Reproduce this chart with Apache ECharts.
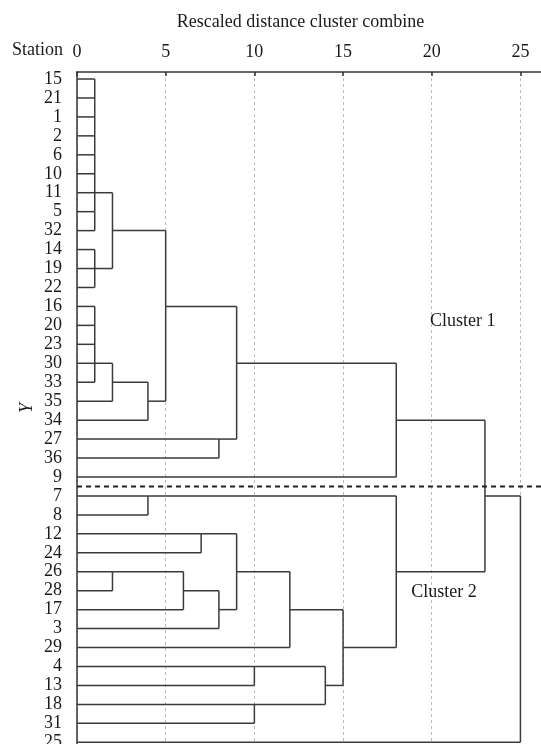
<!DOCTYPE html>
<html>
<head>
<meta charset="utf-8">
<script src="https://cdn.jsdelivr.net/npm/echarts@6/dist/echarts.min.js"></script>
<style>
html,body{margin:0;padding:0;background:#fff;}
#chart{width:541px;height:744px;}
</style>
</head>
<body>
<div id="chart"></div>
<script>
// Leaf order (top to bottom)
const stations = ['15','21','1','2','6','10','11','5','32','14','19','22','16','20','23','30','33','35','34','27','36','9','7','8','12','24','26','28','17','3','29','4','13','18','31','25'];
// Rescaled distance at which each leaf first joins
const leafJoin = [1,1,1,1,1,1,1,1,1, 1,1,1, 1,1,1,1,1, 2,4,8,8,18, 4,4,7,7,2,2,6,8,12,10,10,10,10,25];
// Merges: [distance, firstRow, lastRow, linkRow, parentDistance]
const merges = [
  [1, 0, 8, 6, 2],
  [1, 9, 11, 10, 2],
  [2, 6, 10, 8, 5],
  [1, 12, 16, 15, 2],
  [2, 15, 17, 16, 4],
  [4, 16, 18, 17, 5],
  [5, 8, 17, 12, 9],
  [8, 19, 20, 19, 9],
  [9, 12, 19, 15, 18],
  [18, 15, 21, 18, 23],
  [4, 22, 23, 22, 18],
  [7, 24, 25, 24, 9],
  [2, 26, 27, 26, 6],
  [6, 26, 28, 27, 8],
  [8, 27, 29, 28, 9],
  [9, 24, 28, 26, 12],
  [12, 26, 30, 28, 15],
  [10, 31, 32, 31, 14],
  [10, 33, 34, 33, 14],
  [14, 31, 33, 32, 15],
  [15, 28, 32, 30, 18],
  [18, 22, 30, 26, 23],
  [23, 18, 26, 22, 25],
  [25, 22, 35, null, null]
];
const xTicks = [0, 5, 10, 15, 20, 25];
const separatorRow = 21.5;
const clusterNotes = [['Cluster 1', 19.9, 12.8], ['Cluster 2', 18.85, 27.07]];

// Build segments [x1, y1, x2, y2]
const segments = [];
leafJoin.forEach((d, i) => segments.push([0, i, d, i]));
merges.forEach(m => {
  segments.push([m[0], m[1], m[0], m[2]]);
  if (m[3] !== null) segments.push([m[0], m[3], m[4], m[3]]);
});

const FONT = '"Liberation Serif", "DejaVu Serif", serif';
const FS = 18;
const TEXT = '#1a1a1a';
const chart = echarts.init(document.getElementById('chart'));
chart.setOption({
  animation: false,
  backgroundColor: '#fff',
  grid: { left: 77, right: 0, top: 72, bottom: 0, containLabel: false, outerBoundsMode: 'none' },
  xAxis: {
    type: 'value', position: 'top', min: 0, max: 26.16, interval: 5,
    name: 'Rescaled distance cluster combine', nameLocation: 'middle', nameGap: 41, nameMoveOverlap: false,
    nameTextStyle: { fontFamily: FONT, fontSize: FS, color: TEXT, padding: [0, 17, 0, 0] },
    axisLine: { show: true, onZero: false, lineStyle: { color: '#333', width: 1.5 } },
    axisTick: { show: true, inside: true, length: 4, lineStyle: { color: '#333', width: 1.5 }, customValues: xTicks },
    axisLabel: { fontFamily: FONT, fontSize: FS, color: TEXT, margin: 11, customValues: xTicks,
      formatter: v => (v % 5 === 0 ? String(v) : '') },
    splitLine: { show: true, lineStyle: { color: '#bbb', type: [3, 3], width: 1 } }
  },
  yAxis: {
    type: 'value', inverse: true, min: -0.37, max: 35.09,
    name: 'Y', nameLocation: 'middle', nameGap: 41, nameRotate: 90, nameMoveOverlap: false,
    nameTextStyle: { fontFamily: FONT, fontSize: FS, fontStyle: 'italic', color: TEXT },
    axisLine: { show: true, onZero: false, lineStyle: { color: '#333', width: 1.5 } },
    axisTick: { show: false },
    splitLine: { show: false },
    axisLabel: { fontFamily: FONT, fontSize: FS, color: TEXT, margin: 15,
      customValues: stations.map((_, i) => i),
      formatter: v => stations[v] }
  },
  graphic: [
    { type: 'text', x: 63, y: 50, style: { text: 'Station', font: FS + 'px ' + FONT, fill: TEXT, align: 'right', verticalAlign: 'middle' } }
  ],
  series: [
    {
      type: 'custom',
      data: segments,
      clip: false,
      renderItem: (params, api) => {
        const p1 = api.coord([api.value(0), api.value(1)]);
        const p2 = api.coord([api.value(2), api.value(3)]);
        return { type: 'line', shape: { x1: p1[0], y1: p1[1], x2: p2[0], y2: p2[1] },
          style: { stroke: '#3a3a3a', lineWidth: 1.5 } };
      }
    },
    {
      type: 'line',
      data: [[0, separatorRow], [26.16, separatorRow]],
      symbol: 'none',
      lineStyle: { color: '#222', width: 2, type: [5, 4] }
    },
    {
      type: 'custom',
      data: clusterNotes.map(n => [n[1], n[2], n[0]]),
      renderItem: (params, api) => {
        const p = api.coord([api.value(0), api.value(1)]);
        return { type: 'text', x: p[0], y: p[1],
          style: { text: clusterNotes[params.dataIndex][0], font: FS + 'px ' + FONT, fill: TEXT, align: 'left', verticalAlign: 'middle' } };
      }
    }
  ]
});
</script>
</body>
</html>
